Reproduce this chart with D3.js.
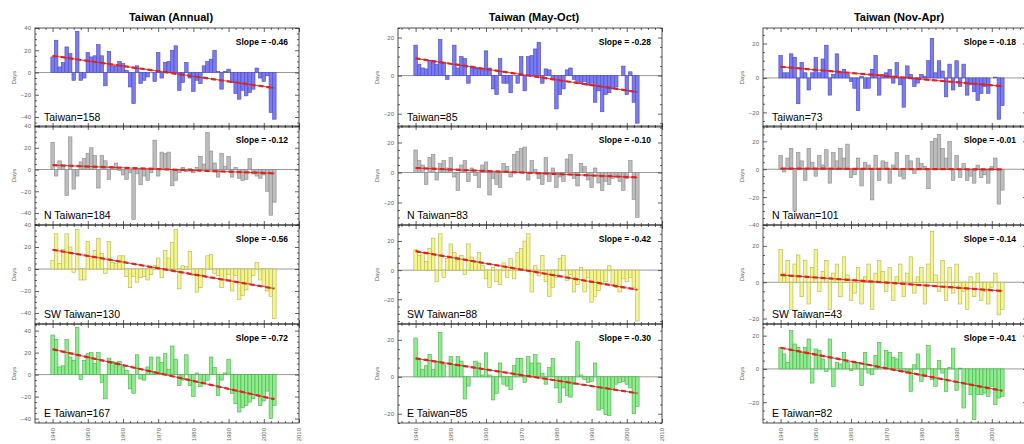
<!DOCTYPE html>
<html>
<head>
<meta charset="utf-8">
<script src="https://cdnjs.cloudflare.com/ajax/libs/d3/7.8.5/d3.min.js"></script>
<style>
body { margin: 0; background: #fff; }
svg { font-family: Arial, "Liberation Sans", sans-serif; }
</style>
</head>
<body>
<div id="chart"></div>
<script>
var width = 1024,
    height = 444;

// years of record, one bar per year
var years = d3.range(1940, 2004);

var titles = ["Taiwan (Annual)", "Taiwan (May-Oct)", "Taiwan (Nov-Apr)"];
var regions = ["Taiwan", "N Taiwan", "SW Taiwan", "E Taiwan"];
var counts = [[158, 184, 130, 167], [85, 83, 88, 85], [73, 101, 43, 82]];
var slopes = [[-0.46, -0.12, -0.56, -0.72], [-0.28, -0.10, -0.42, -0.30], [-0.18, -0.01, -0.14, -0.41]];
// trend value at 1940
var trendStart = [[15, 4, 17.5, 23], [9, 3, 13, 10], [6.5, 0.5, 4, 12.7]];
var yDomains = [
    [[-49, 40], [-51, 40], [-50, 40], [-44, 46]],
    [[-27, 25], [-35, 31], [-37, 31], [-25, 28.6]],
    [[-28.5, 29], [-40, 31], [-23, 31.5], [-32.5, 27]]
];

// anomalies (days), 1940-2003
var annualTW = [14,29,5,9,23,17,-7,37,-7,-5, 18,14,15,25,15,-12,19,6,6,10, 8,2,-13,-28,6,-10,-7,-4,0,-8, 18,-5,9,10,20,24,-16,-9,9,-5, -17,-7,-10,6,10,12,20,1,-15,1, 3,-9,-19,-24,-16,-21,-18,-15,4,-5, -8,-3,-36,-42];
var annualN = [25,-6,8,4,-24,30,-18,-6,7,10, 15,20,13,-17,13,8,-9,3,6,-1, -5,-9,-3,-46,-4,-14,-6,-10,-3,27, -6,16,15,16,-15,-10,-3,2,-2,1, -3,2,12,5,34,17,6,-7,15,3, 12,-7,2,-8,-10,-9,10,-4,-6,-8, -5,-20,-42,-30];
var annualSW = [8,32,5,18,32,20,-3,36,-10,-10, 25,10,17,28,14,-4,25,6,5,12, 12,-7,-17,-7,-12,-8,-7,-10,-5,3, 10,-8,17,10,24,36,-18,3,2,16, -6,-21,-17,-6,12,13,-4,-6,-17,-10, -5,-20,-6,-28,-24,-19,-13,-6,6,-10, -15,-20,-25,-45];
var annualE = [36,32,7,8,32,16,13,43,-4.5,13, 19,20,10,20,-7,-22,15,12,11,12, 7,4,-13,-17,18,-4,-5,7,16,2.5, 16,11,19,5,26,14,-10,-5,18,-10, -20,1.5,-11,-8,-5,16,6.5,-19,-5,1.5, 14,-17,-26.5,-34,-30,-28,-25,-22,-18,-28, -24,-15,-40,-28];

var mayOctTW = [16,6,4,3.5,8,7,6,19,7,-2, 0,16,4,10,9,-4,5,4,4,3, 13,4,-7,-10,9,-4,-4,-9,0,-4, 10,-8,10,10.5,14,17.5,-4,3.5,3,-2, -17.5,-10,-7,3,4,-2,-3,-4,-3,-5, -4,-14,-8,-19,-10,-9,-7,-6,0,5, -10,2,-14,-25];
var mayOctN = [15,8,5,-8,10,12,-5,6,8,3, 10,-3,-12,5,8,-6,3,-2,-10,5, 7,-15,-4,-8,-10,6,4,-3,12,14, 16,17,-5,8,2,-4,-8,10,-6,3, -10,-3,-6,9,12,-4,-9,6,4,-5, -10,3,-7,-12,-6,-8,-4,-3,-6,-12, -4,8,-18,-30];
var mayOctSW = [14,10,12,6,15,22,-8,25,-5,8, 18,12,7,10,-3,18,9,6,12,3, -6,-12,2,-8,-10,5,-5,8,-6,12, 15,20,25,-15,3,-4,10,-8,-18,-12, -5,8,10,-7,-3,-15,-10,2,-15,-5, -22,-18,-14,-10,-8,3,-10,-12,-15,-6, -8,-5,-12,-35];
var mayOctE = [21,10,4,6,12,4,8.5,24,7,0, 11,6,11,8.5,-12,-5,0,8.5,7.5,1, 13,1,-12.5,-9,7.5,-4,-5,-7,6,10, 10,-3,11,7.5,12,7.5,2,-4,5,10, -6,-14,-6,-10,-11,-4,19,1,-1.5,-3, -2.5,7.5,-18,-17,-20.5,-21,-7,-4,-3,-2.5, -4,-6,-20,-16];

var novAprTW = [13,3,3,14,12,-15,9,3,-7,3, 12,3,11,19,-10,2,14,3,5,2, -2,-6,-19,1,-6,-6,5,13,-10,2, 3,5,-3,9,-4,-17,7,2,-5,-3, 2,1,10,23,3,10,4,-11,8,-7, 10,-5,8,-10,-4,-8,-13,-9,-5,-9, 0,0.5,-24,-16];
var novAprN = [10,-2,8,15,-30,12,6,-8,15,5, -5,10,3,14,-10,12,6,15,8,18, -6,-4,8,-12,5,3,-22,10,-8,6, 5,-10,3,12,-5,-7,10,6,-3,8, 4,2,-14,20,22,25,15,8,20,-8, 10,-6,4,-8,-5,-10,3,-6,-4,-10, 2,8,-25,-15];
var novAprSW = [18,5,12,-15,10,15,-8,12,-12,8, 18,-5,6,12,-15,5,10,-8,14,4, -10,-6,8,-12,3,10,-15,5,12,6, -5,8,-10,3,10,-8,5,14,-6,3, 8,-12,10,28,4,-5,12,-10,8,-6, 10,-12,-5,-15,3,-8,5,-10,-5,-12, -3,5,-18,-15];
var novAprE = [13,9,4,23,15,13,10,13,18,-8.5, 12,11,6,-1.5,18,-10.5,4,3,10,4, -1,4,4,-10,10,-2.5,-3.5,8,16,0, 11,10,7,6,10,-1.5,-2.5,-13.5,2.5,9, -7.5,-3.5,14,-6.5,-10.5,5,-2.5,-13.5,1,12.5, -13,0.5,-23.5,-9.5,-15.5,-30.5,-15.5,-15.5,-14.5,-16.5, -10.5,-21.5,-17.5,-16.5];

var series = [
    [annualTW, annualN, annualSW, annualE],
    [mayOctTW, mayOctN, mayOctSW, mayOctE],
    [novAprTW, novAprN, novAprSW, novAprE]
];

var fills = ["#7b7bef", "#bdbdbd", "#f5f590", "#8eec8e"];
var strokes = ["#4a4ac8", "#8c8c8c", "#b5b550", "#4caf4c"];

// panel layout
var colLeft = [35, 398, 763],
    panelW = 264,
    rowTop = [28, 126, 225, 324],
    panelH = 99;

var svg = d3.select("#chart")
    .append("svg")
    .attr("width", width)
    .attr("height", height);

function styleAxis(sel) {
    sel.select(".domain").remove();
    sel.selectAll("line").attr("stroke", "#222").attr("stroke-width", 0.7);
    sel.selectAll("text").attr("fill", "#666").style("font-size", "6px");
}

function drawPanel(c, r, x) {
    var left = colLeft[c], right = left + panelW;
    var pTop = rowTop[r], pBottom = pTop + panelH;
    var dom = yDomains[c][r];
    var barW = x(1936) - x(1935);

    var y = d3.scaleLinear()
        .domain(dom)
        .range([pBottom, pTop]);

    var g = svg.append("g");
    var vals = series[c][r];

    // zero line
    g.append("line")
        .attr("x1", left).attr("x2", right)
        .attr("y1", y(0)).attr("y2", y(0))
        .attr("stroke", "#9a9a9a")
        .attr("stroke-width", 1);

    g.selectAll("rect.bar")
        .data(years.map(function(yr, i) { return {year: yr, v: vals[i]}; }))
        .enter()
        .append("rect")
        .attr("class", "bar")
        .attr("x", function(d) { return x(d.year - 0.5); })
        .attr("width", barW)
        .attr("y", function(d) { return y(Math.max(0, d.v)); })
        .attr("height", function(d) { return Math.abs(y(d.v) - y(0)); })
        .attr("fill", fills[r])
        .attr("stroke", strokes[r])
        .attr("stroke-width", 0.6);

    // linear trend, red dashes over a thin dark line
    var t0 = trendStart[c][r], s = slopes[c][r];
    var trend = [years[0], years[years.length - 1]].map(function(yr) {
        return [x(yr), y(t0 + s * (yr - years[0]))];
    });
    g.append("path")
        .attr("d", d3.line()(trend))
        .attr("stroke", "#8a3020")
        .attr("stroke-width", 0.8)
        .attr("fill", "none");
    g.append("path")
        .attr("d", d3.line()(trend))
        .attr("stroke", "#ee1c1c")
        .attr("stroke-width", 2.2)
        .attr("stroke-dasharray", "5,3")
        .attr("fill", "none");

    // frame
    g.append("rect")
        .attr("x", left).attr("y", pTop)
        .attr("width", panelW).attr("height", panelH)
        .attr("fill", "none")
        .attr("stroke", "#222")
        .attr("stroke-width", 0.8);

    var major = d3.range(Math.ceil(dom[0] / 20) * 20, dom[1] + 0.01, 20);
    var minor = d3.range(Math.ceil(dom[0] / 5) * 5, dom[1] + 0.01, 5)
        .filter(function(v) { return v % 20 !== 0; });
    var decades = d3.range(1940, 2011, 10);
    var twoYears = d3.range(1936, 2010, 2).filter(function(v) { return v % 10 !== 0; });

    g.append("g")
        .attr("transform", "translate(" + left + ",0)")
        .call(d3.axisLeft(y).tickValues(major).tickSize(-4).tickPadding(4).tickFormat(d3.format("d")))
        .call(styleAxis);
    g.append("g")
        .attr("transform", "translate(" + left + ",0)")
        .call(d3.axisLeft(y).tickValues(minor).tickSize(-2).tickFormat(""))
        .call(styleAxis);
    g.append("g")
        .attr("transform", "translate(" + right + ",0)")
        .call(d3.axisRight(y).tickValues(major).tickSize(-4).tickFormat(""))
        .call(styleAxis);
    g.append("g")
        .attr("transform", "translate(" + right + ",0)")
        .call(d3.axisRight(y).tickValues(minor).tickSize(-2).tickFormat(""))
        .call(styleAxis);
    g.append("g")
        .attr("transform", "translate(0," + pTop + ")")
        .call(d3.axisTop(x).tickValues(decades).tickSize(-4).tickFormat(""))
        .call(styleAxis);
    g.append("g")
        .attr("transform", "translate(0," + pTop + ")")
        .call(d3.axisTop(x).tickValues(twoYears).tickSize(-2).tickFormat(""))
        .call(styleAxis);
    var bx = g.append("g")
        .attr("transform", "translate(0," + pBottom + ")")
        .call(d3.axisBottom(x).tickValues(decades).tickSize(-4)
            .tickFormat(r === 3 ? d3.format("d") : ""))
        .call(styleAxis);
    g.append("g")
        .attr("transform", "translate(0," + pBottom + ")")
        .call(d3.axisBottom(x).tickValues(twoYears).tickSize(-2).tickFormat(""))
        .call(styleAxis);
    if (r === 3) {
        bx.selectAll("text")
            .attr("transform", "rotate(-90)")
            .attr("x", -5)
            .attr("y", 0)
            .attr("dy", "0.32em")
            .style("text-anchor", "end");
    } else {
        bx.selectAll("text").remove();
    }

    // y label
    g.append("text")
        .attr("transform", "translate(" + (left - 19) + "," + (pTop + panelH / 2) + ") rotate(-90)")
        .attr("text-anchor", "middle")
        .attr("fill", "#666")
        .style("font-size", "6px")
        .text("Days");

    g.append("text")
        .attr("x", right - 11)
        .attr("y", pTop + 17)
        .attr("text-anchor", "end")
        .style("font-size", "8.5px")
        .style("font-weight", "bold")
        .text("Slope = " + slopes[c][r].toFixed(2));

    g.append("text")
        .attr("x", left + 9)
        .attr("y", pBottom - 6)
        .style("font-size", "10.5px")
        .text(regions[r] + "=" + counts[c][r]);
}

for (var c = 0; c < 3; c++) {
    var x = d3.scaleLinear()
        .domain([1935, 2010])
        .range([colLeft[c], colLeft[c] + panelW]);

    svg.append("text")
        .attr("x", colLeft[c] + panelW / 2 + 4)
        .attr("y", 21)
        .attr("text-anchor", "middle")
        .style("font-size", "11px")
        .style("font-weight", "bold")
        .text(titles[c]);

    for (var r = 0; r < 4; r++) {
        drawPanel(c, r, x);
    }
}
</script>
</body>
</html>
